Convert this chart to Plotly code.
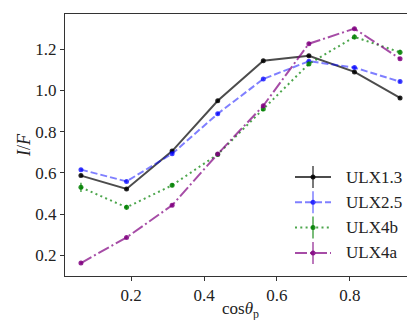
import plotly.graph_objects as go

cos_theta = [0.0625, 0.1875, 0.3125, 0.4375, 0.5625, 0.6875, 0.8125, 0.9375]

ulx13 = [0.587, 0.522, 0.706, 0.950, 1.144, 1.168, 1.090, 0.964]
ulx25 = [0.616, 0.559, 0.693, 0.887, 1.056, 1.142, 1.111, 1.043]
ulx4b = [0.530, 0.433, 0.540, 0.690, 0.910, 1.129, 1.260, 1.185]
ulx4a = [0.163, 0.287, 0.443, 0.692, 0.926, 1.227, 1.300, 1.154]

err13 = [0.006, 0.006, 0.006, 0.006, 0.006, 0.006, 0.006, 0.006]
err25 = [0.006, 0.006, 0.006, 0.006, 0.006, 0.006, 0.006, 0.006]
err4b = [0.022, 0.012, 0.010, 0.010, 0.010, 0.010, 0.012, 0.012]
err4a = [0.006, 0.006, 0.006, 0.006, 0.006, 0.006, 0.006, 0.006]

names = ["ULX1.3", "ULX2.5", "ULX4b", "ULX4a"]
series = [ulx13, ulx25, ulx4b, ulx4a]
errors = [err13, err25, err4b, err4a]
line_colors = ["rgba(0,0,0,0.7)", "rgba(0,0,255,0.5)", "rgba(0,128,0,0.7)", "rgba(128,0,128,0.7)"]
mark_colors = ["rgba(0,0,0,0.85)", "rgba(0,0,255,0.75)", "rgba(0,128,0,0.85)", "rgba(128,0,128,0.85)"]
dashes = ["solid", "7px,3px", "2px,3.3px", "12px,3px,2px,3px"]

xticks = [0.2, 0.4, 0.6, 0.8]
yticks = [0.2, 0.4, 0.6, 0.8, 1.0, 1.2]

FONT = "Liberation Serif"
W, H = 415, 320
ML, MR, MT, MB = 57, 7, 6, 52
PW, PH = W - ML - MR, H - MT - MB

fig = go.Figure()
for name, ys, es, lc, mc, d in zip(names, series, errors, line_colors, mark_colors, dashes):
    fig.add_trace(go.Scatter(
        x=cos_theta, y=ys, name=name, mode="lines+markers",
        line=dict(color=lc, width=2, dash=d),
        marker=dict(color=mc, size=5),
        error_y=dict(type="data", array=es, visible=True, color=lc, thickness=1.5, width=0),
        showlegend=False,
    ))

# manual legend (matplotlib style)
def px_to_paper(xp, yp):
    return (xp - ML) / PW, (MT + PH - yp) / PH

for i, (name, lc, mc, d) in enumerate(zip(names, line_colors, mark_colors, dashes)):
    yp = 169 + 25.3 * i
    x0, y0 = px_to_paper(287, yp)
    x1, _ = px_to_paper(323, yp)
    xc, _ = px_to_paper(305, yp)
    fig.add_shape(type="line", xref="paper", yref="paper", x0=x0, x1=x1, y0=y0, y1=y0,
                  line=dict(color=lc, width=2, dash=d))
    _, yb0 = px_to_paper(305, yp + 11)
    _, yb1 = px_to_paper(305, yp - 11)
    fig.add_shape(type="line", xref="paper", yref="paper", x0=xc, x1=xc, y0=yb0, y1=yb1,
                  line=dict(color=lc, width=1.5))
    rx, ry = 2.5 / PW, 2.5 / PH
    fig.add_shape(type="circle", xref="paper", yref="paper", x0=xc - rx, x1=xc + rx,
                  y0=y0 - ry, y1=y0 + ry, fillcolor=mc, line=dict(width=0))
    tx, _ = px_to_paper(336, yp)
    fig.add_annotation(xref="paper", yref="paper", x=tx, y=y0, text=name, showarrow=False,
                       xanchor="left", yanchor="middle", font=dict(family=FONT, size=17, color="#222"))

# axis labels
lx, ly = px_to_paper(16, 137)
fig.add_annotation(xref="paper", yref="paper", x=lx, y=ly, text="<i>I</i>/<i>F</i>", textangle=-90,
                   showarrow=False, xanchor="center", yanchor="middle",
                   font=dict(family=FONT, size=18, color="#222"))
bx, by = px_to_paper(232, 302)
fig.add_annotation(xref="paper", yref="paper", x=bx, y=by, text="cos<i>θ</i><sub>p</sub>",
                   showarrow=False, xanchor="center", yanchor="middle",
                   font=dict(family=FONT, size=17, color="#222"))

axis_common = dict(showgrid=False, zeroline=False, showline=True, mirror=True,
                   linecolor="#333", linewidth=1, ticks="outside", ticklen=4, tickwidth=1,
                   tickcolor="#333", tickfont=dict(family=FONT, size=17, color="#222"))
fig.update_xaxes(range=[0.01875, 0.98125], tickvals=xticks, ticktext=[f"{v:.1f}" for v in xticks], **axis_common)
fig.update_yaxes(range=[0.1, 1.371], tickvals=yticks, ticktext=[f"{v:.1f}" for v in yticks], **axis_common)

fig.update_layout(width=W, height=H, margin=dict(l=ML, r=MR, t=MT, b=MB),
                  font=dict(family=FONT),
                  plot_bgcolor="white", paper_bgcolor="white", showlegend=False)

fig.write_html("out.html")
